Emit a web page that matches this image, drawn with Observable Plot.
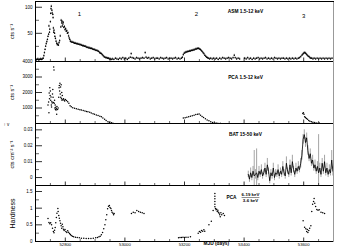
<!DOCTYPE html>
<html><head><meta charset="utf-8">
<script src="https://cdn.jsdelivr.net/npm/d3@7"></script>
<script src="https://cdn.jsdelivr.net/npm/@observablehq/plot@0.6"></script>
<style>
html,body{margin:0;padding:0;background:#fff;}
#chart{position:relative;width:347px;height:247px;overflow:hidden;background:#fff;}
#chart > div{position:absolute;left:0;}
#chart svg{overflow:visible;display:block;}
</style></head><body><div id="chart"></div>
<script>
// ---------------- data ----------------
const xDomain = [52700, 53700];
const xMajor = [52800, 53000, 53200, 53400, 53600];
const xMinor = [52700,52750,52850,52900,52950,53050,53100,53150,53250,53300,53350,53450,53500,53550,53650,53700];

// ASM 1.5-12 keV, [MJD, cts/s]
const asm = [
[52702,-1],[52705,0],[52708,1],[52711,-1],[52714,0],[52717,1],[52720,0],[52723,1],[52726,2],
[52728,7],[52730,13],[52732,19],[52734,25],[52736,30],[52738,34],[52740,38],[52742,44],[52744,48],[52745,64],[52747,52],[52748,58],[52750,72],[52751,88],[52752,97],[52753,102],[52755,94],[52756,89],[52758,86],[52759,80],[52760,60],[52761,52],[52762,56],[52764,50],[52765,44],[52767,40],[52769,35],[52771,31],[52773,28],[52775,29],[52777,27],[52779,32],[52781,36],[52783,45],[52785,62],[52786,75],[52788,70],[52789,73],[52790,64],[52792,68],[52793,71],[52795,61],[52797,63],[52799,57],[52801,59],[52803,54],[52805,55],[52807,50],[52809,51],[52811,45],[52813,41],[52815,38],[52817,35],[52819,34],[52822,33],[52825,33],[52828,32],[52831,31],[52834,31],[52837,30],[52840,30],[52843,29],[52846,29],[52849,28],[52852,28],[52855,27],[52858,26],[52861,26],[52864,25],[52867,25],[52870,24],[52873,23],[52876,23],[52879,22],[52882,22],[52885,21],[52888,21],[52891,20],[52894,19],[52897,19],[52900,18],[52903,17],[52906,17],[52909,16],[52912,15],[52915,13],[52918,12],[52921,11],[52924,9],[52927,7],[52930,5],[52933,4],[52936,3],[52939,3],[52942,2],[52945,2],[52948,1],[52951,1],[52954,0],
[52958,1],[52963,0],[52968,2],[52973,1],[52978,0],[52983,2],[52988,1],[52993,3],[52998,1],[53003,2],[53008,0],[53013,2],[53018,4],[53021,11],[53024,3],[53029,2],[53034,1],[53039,3],[53044,2],[53049,1],[53054,2],[53059,3],[53064,2],[53068,13],[53071,4],[53075,2],[53080,3],[53085,1],[53090,2],[53095,3],[53100,1],[53105,2],[53110,2],[53115,1],[53120,3],[53125,2],[53130,1],[53135,2],[53140,3],[53145,1],[53150,2],[53155,2],[53160,1],[53165,2],[53170,3],[53175,1],[53180,2],[53185,1],[53190,2],
[53193,4],[53196,9],[53199,12],[53202,13],[53205,14],[53208,14],[53211,15],[53214,15],[53217,16],[53220,16],[53223,17],[53226,17],[53229,18],[53232,18],[53235,19],[53238,20],[53241,20],[53244,21],[53247,21],[53250,20],[53253,19],[53256,17],[53259,15],[53262,13],[53265,11],[53268,8],[53271,6],[53274,4],[53277,3],[53280,2],[53284,1],[53288,2],[53293,1],[53298,2],[53303,1],[53308,2],[53313,0],[53318,2],[53323,1],[53328,3],[53333,2],[53338,1],[53343,2],[53348,3],[53353,2],[53358,1],[53363,3],[53367,8],[53370,3],[53375,1],[53380,2],[53385,1],
[53402,2],[53407,1],[53412,3],[53417,1],[53422,2],[53427,0],[53432,2],[53437,1],[53442,2],[53447,3],[53452,1],[53457,2],[53462,1],[53467,2],[53472,3],[53477,1],[53482,2],[53487,1],[53492,2],[53497,1],[53502,3],[53507,2],[53512,1],[53517,2],[53522,1],[53527,2],[53532,2],[53537,1],[53542,2],[53547,1],[53552,2],[53557,1],[53562,2],[53567,1],[53572,2],[53577,1],[53582,2],
[53586,3],[53590,5],[53594,8],[53597,10],[53600,12],[53603,13],[53606,12],[53609,10],[53612,8],[53615,6],[53618,5],[53621,3],[53624,2],[53627,2],[53631,1],[53635,2],[53640,1],[53645,2],[53650,1],[53655,2],[53660,1],[53665,2],[53670,1],[53675,2],[53680,1],[53685,2],[53690,1],[53695,2]
];

// PCA 1.5-12 keV, [MJD, cts/s]
const pca = [
[52742,1200],[52744,1390],[52745,700],[52746,1970],[52747,1600],[52748,2300],[52749,1800],[52750,2100],[52751,1500],[52752,1710],[52753,1200],[52754,1060],[52755,1400],[52756,1320],[52757,1900],[52758,2200],[52759,1700],[52760,1350],[52761,3640],[52762,3450],[52763,1300],[52764,1500],[52765,1000],[52766,1200],[52767,900],[52768,1050],[52769,870],[52770,950],[52771,600],[52772,1100],[52774,900],[52776,1000],[52778,1700],[52779,2300],[52780,2450],[52781,2100],[52782,2600],[52783,1900],[52784,2350],[52785,1700],[52786,2500],[52787,1600],[52788,2000],[52789,1500],[52790,1800],[52792,1550],[52794,1600],[52796,1500],[52798,1450],
[52800,1550],[52804,1480],[52808,1400],[52812,1300],[52816,1150],[52820,1080],[52825,1020],[52831,980],[52837,950],[52843,920],[52849,890],[52854,870],[52860,840],[52866,800],[52871,780],[52876,760],[52882,720],[52887,680],[52893,630],[52898,590],[52904,550],[52910,510],[52916,470],[52921,440],[52926,360],[52932,270],[52937,200],[52943,120],[52948,80],[52955,50],[52960,20],
[53196,350],[53202,370],[53208,400],[53214,430],[53220,460],[53226,500],[53232,540],[53238,580],[53244,600],[53249,610],[53254,540],[53259,450],[53264,380],[53270,300],[53276,230],[53282,170],[53288,110],[53294,70],[53300,40],[53306,25],[53312,15],[53320,10],
[53597,640],[53599,700],[53601,600],[53603,440],[53606,380],[53609,330],[53613,280],[53617,200],[53621,150],[53626,110],[53631,80],[53637,60],[53644,40],[53652,30]
];

// BAT 15-50 keV
const batMjd = [53414,53418,53422,53426,53430,53434,53438,53442,53446,53450,53454,53458,53462,53466,53470,53474,53478,53482,53486,53490,53494,53498,53502,53506,53510,53514,53518,53522,53526,53530,53534,53538,53542,53546,53550,53554,53558,53562,53566,53570,53574,53578,53582,53586,53590,53594,53598,53602,53606,53610,53614,53618,53622,53626,53630,53634,53638,53642,53646,53650,53654,53658,53662,53666,53670,53674,53678,53682,53686,53690,53694,53698];
const batRate = [0.002,-0.001,0.003,0.000,0.004,0.001,0.002,0.003,0.000,0.004,0.002,0.005,0.001,0.003,0.006,0.002,0.008,0.004,-0.002,0.003,0.001,0.006,0.000,0.003,0.002,0.005,0.001,0.004,0.002,0.007,0.003,0.001,0.009,0.004,0.002,0.008,0.003,0.010,0.005,0.002,0.006,0.004,0.007,0.005,0.009,0.014,0.024,0.027,0.022,0.025,0.017,0.012,0.015,0.009,0.011,0.006,0.008,0.004,0.007,0.003,0.006,0.002,0.009,0.004,0.010,0.003,0.006,0.002,0.005,0.003,0.011,0.004];
const batErr = [0.002,0.002,0.003,0.002,0.003,0.016,0.003,0.015,0.002,0.003,0.002,0.003,0.002,0.002,0.003,0.002,0.004,0.002,0.002,0.002,0.002,0.003,0.002,0.002,0.002,0.003,0.002,0.002,0.002,0.003,0.002,0.002,0.004,0.002,0.002,0.003,0.002,0.004,0.002,0.002,0.003,0.002,0.003,0.002,0.003,0.003,0.003,0.003,0.003,0.003,0.003,0.002,0.003,0.002,0.003,0.002,0.003,0.002,0.003,0.024,0.003,0.002,0.003,0.002,0.004,0.002,0.003,0.002,0.003,0.002,0.006,0.003];

// Hardness PCA (6-19 keV)/(3-6 keV)
const hard = [
[52742,0.69],[52745,0.57],[52748,0.53],[52751,0.56],[52754,0.50],[52757,0.40],[52760,0.30],[52762,0.26],[52764,0.34],[52766,0.42],[52768,0.56],[52770,0.72],[52772,0.85],[52775,0.99],[52776,0.90],[52778,0.78],[52780,0.70],[52782,0.62],[52784,0.55],[52786,0.47],[52788,0.40],[52790,0.52],[52792,0.44],[52794,0.37],[52796,0.33],[52799,0.36],[52802,0.30],[52805,0.27],[52808,0.32],[52811,0.28],[52814,0.24],[52817,0.21],[52820,0.18],[52824,0.16],[52828,0.14],[52834,0.13],[52840,0.12],[52847,0.11],[52854,0.10],[52862,0.10],[52870,0.09],[52878,0.09],[52886,0.09],[52894,0.10],[52902,0.11],[52908,0.12],[52913,0.14],
[52917,0.16],[52921,0.20],[52925,0.27],[52929,0.38],[52933,0.50],[52936,0.65],[52939,0.80],[52942,0.98],[52945,1.06],[52948,1.08],[52950,1.02],[52953,0.99],[52955,0.93],[52957,0.88],[52960,0.85],[52962,0.80],[52964,0.84],
[53022,0.84],[53028,0.88],[53034,0.86],[53040,0.93],[53046,0.90],[53052,0.88],[53058,0.86],[53064,0.84],
[53180,0.11],[53185,0.12],[53190,0.12],[53195,0.13],[53200,0.12],[53205,0.13],[53212,0.13],[53220,0.14],
[53246,0.25],[53250,0.30],[53254,0.28],[53257,0.33],[53261,0.31],[53265,0.35],[53268,0.31],[53282,0.50],[53290,0.61],[53296,0.93],[53302,1.44],[53302,1.36],[53302,1.28],[53302,1.20],[53302,1.12],[53302,1.04],[53304,0.99],[53306,0.95],[53308,0.97],[53310,0.90],[53312,0.94],[53314,0.88],[53316,0.85],[53318,0.80],[53320,0.74],[53322,0.86],[53325,0.80],[53330,0.84],[53334,0.78],
[53598,0.62],[53603,0.43],[53607,0.38],[53610,0.30],[53612,0.36],[53614,0.27],[53617,0.33],[53620,0.40],[53624,0.47],[53627,0.90],[53630,1.12],[53633,1.20],[53635,1.29],[53637,1.15],[53640,1.05],[53644,0.96],[53648,0.94],[53652,0.95],[53658,0.88],[53664,0.86],[53670,0.84]
];

// annotations
const outburstLabels = ["1", "2", "3"];
const outburstMjd = [52847, 53240, 53600];
const outburstRate = [86, 86, 83];

// ---------------- drawing ----------------
const FONT = '"Liberation Sans", Arial, Helvetica, sans-serif';
const W = 347, ML = 35, MR = 14, plotW = W - ML - MR;
const chart = document.getElementById("chart");

function panel({areaTop, h, mt, mb, yDomain, yMajor, yMinor, yLabels, yFmt, marks, bottomAxis, topLine}) {
  const all = [
    ...marks,
    Plot.ruleY(yMajor, {insetRight: plotW - 7, stroke: "#000", strokeWidth: 0.8}),
    Plot.ruleY(yMinor, {insetRight: plotW - 4, stroke: "#000", strokeWidth: 0.6}),
    Plot.ruleX(xMinor, {insetTop: h - 2, stroke: "#000", strokeWidth: 0.6}),
    Plot.ruleX(xMajor, {insetTop: h - 3.5, stroke: "#000", strokeWidth: 0.8}),
    Plot.frame({anchor: "left", stroke: "#000", strokeWidth: 1}),
    Plot.frame({anchor: "bottom", stroke: "#000", strokeWidth: 1}),
    Plot.frame({anchor: "right", stroke: "#999", strokeWidth: 1}),
    Plot.axisY({ticks: yLabels, tickSize: 0, tickPadding: 3, tickFormat: yFmt, fontSize: 4.5})
  ];
  if (topLine) all.push(Plot.frame({anchor: "top", stroke: "#000", strokeWidth: 1}));
  if (bottomAxis) all.push(Plot.axisX({ticks: xMajor, tickSize: 0, tickPadding: 1.5, tickFormat: d => String(d), fontSize: 4.2}));
  const svg = Plot.plot({
    width: W, height: mt + h + mb,
    marginLeft: ML, marginRight: MR, marginTop: mt, marginBottom: mb,
    x: {domain: xDomain, axis: null},
    y: {domain: yDomain, axis: null},
    style: {fontFamily: FONT, fontSize: "4.5px", background: "transparent", color: "#000", overflow: "visible"},
    marks: all
  });
  const div = document.createElement("div");
  div.style.top = (areaTop - mt) + "px";
  div.appendChild(svg);
  chart.appendChild(div);
  return svg;
}

const yTitle = (t, fs) => Plot.text([t], {frameAnchor: "left", dx: -23, rotate: -90, textAnchor: "middle", fontSize: fs, text: d => d, fill: "#000"});
const label = (t, dx, dy, opts = {}) => Plot.text([t], {frameAnchor: "top-left", dx, dy, text: d => d, fontSize: 4.8, fontWeight: "bold", fill: "#000", ...opts});

// Panel 1: ASM
panel({
  areaTop: 1, h: 60, mt: 4, mb: 4, topLine: true,
  yDomain: [-4, 111], yMajor: [0, 50, 100], yMinor: [25, 75], yLabels: [50, 100], yFmt: d => String(d),
  marks: [
    Plot.ruleX(asm, {x: d => d[0], y1: d => d[1] - 1.8, y2: d => d[1] + 1.8, stroke: "#000", strokeWidth: 0.5, clip: true}),
    Plot.dot(asm, {x: d => d[0], y: d => d[1], r: 0.75, fill: "#000", stroke: null, clip: true}),
    Plot.text(outburstLabels, {x: (d, i) => outburstMjd[i], y: (d, i) => outburstRate[i], text: d => d, fontSize: 6, fill: "#000"}),
    label("ASM 1.5-12 keV", 210, 8, {textAnchor: "middle"}),
    yTitle("cts s\u207B\u00B9", 5.5)
  ]
});

// Panel 2: PCA
panel({
  areaTop: 61, h: 62, mt: 4, mb: 4,
  yDomain: [0, 4000], yMajor: [0, 1000, 2000, 3000, 4000], yMinor: [500, 1500, 2500, 3500], yLabels: [1000, 2000, 3000, 4000], yFmt: d => String(d),
  marks: [
    Plot.dot(pca, {x: d => d[0], y: d => d[1], r: 0.75, fill: "#000", stroke: null, clip: true}),
    label("PCA 1.5-12 keV", 210, 14, {textAnchor: "middle"}),
    yTitle("cts s\u207B\u00B9", 5.5)
  ]
});

// Panel 3: BAT
const bat = batMjd.map((m, i) => ({m, v: batRate[i], e: batErr[i]}));
panel({
  areaTop: 123, h: 62, mt: 4, mb: 4,
  yDomain: [-0.005, 0.034], yMajor: [0, 0.01, 0.02, 0.03], yMinor: [0.005, 0.015, 0.025], yLabels: [0, 0.01, 0.02, 0.03], yFmt: d => d === 0 ? "0" : String(d),
  marks: [
    Plot.ruleX(bat, {x: "m", y1: d => d.v - d.e, y2: d => d.v + d.e, stroke: "#666", strokeWidth: 0.6, clip: true}),
    Plot.line(bat, {x: "m", y: "v", stroke: "#000", strokeWidth: 0.8, clip: true}),
    label("BAT 15-50 keV", 210, 9, {textAnchor: "middle"}),
    yTitle("cts cm\u207B\u00B2 s\u207B\u00B9", 5.5)
  ]
});

// Panel 4: Hardness
const s4 = panel({
  areaTop: 185, h: 56, mt: 4, mb: 6, bottomAxis: true,
  yDomain: [0, 1.68], yMajor: [0, 0.5, 1, 1.5], yMinor: [0.25, 0.75, 1.25], yLabels: [0, 0.5, 1, 1.5], yFmt: d => String(d),
  marks: [
    Plot.dot(hard, {x: d => d[0], y: d => d[1], r: 0.75, fill: "#000", stroke: null, clip: true}),
    label("PCA", 196, 10, {textAnchor: "middle"}),
    label("6-19 keV", 215, 7.5, {textAnchor: "middle", fontSize: 4.4}),
    label("3-6 keV", 215, 13.5, {textAnchor: "middle", fontSize: 4.4}),
    Plot.text(["MJD (days)"], {frameAnchor: "bottom-left", dx: 168, dy: 3.5, text: d => d, fontSize: 4.8, fontWeight: "bold", fill: "#000"}),
    yTitle("Hardness", 7)
  ]
});
d3.select(s4).selectAll("text").filter(function() { return this.textContent === "6-19 keV"; })
  .style("text-decoration", "underline");
</script></body></html>
